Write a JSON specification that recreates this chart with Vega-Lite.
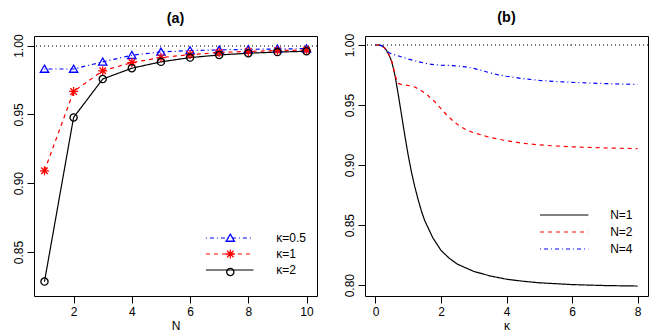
{
  "$schema": "https://vega.github.io/schema/vega-lite/v6.json",
  "background": "white",
  "padding": {"left": 11, "top": 9, "right": 15, "bottom": 5},
  "spacing": 48,
  "bounds": "flush",
  "datasets": {
    "a": [
      {"N": 1, "kappa": "κ=0.5", "value": 0.983},
      {"N": 2, "kappa": "κ=0.5", "value": 0.983},
      {"N": 3, "kappa": "κ=0.5", "value": 0.9882},
      {"N": 4, "kappa": "κ=0.5", "value": 0.993},
      {"N": 5, "kappa": "κ=0.5", "value": 0.9954},
      {"N": 6, "kappa": "κ=0.5", "value": 0.9964},
      {"N": 7, "kappa": "κ=0.5", "value": 0.9969},
      {"N": 8, "kappa": "κ=0.5", "value": 0.9973},
      {"N": 9, "kappa": "κ=0.5", "value": 0.9976},
      {"N": 10, "kappa": "κ=0.5", "value": 0.9978},
      {"N": 1, "kappa": "κ=1", "value": 0.909},
      {"N": 2, "kappa": "κ=1", "value": 0.9667},
      {"N": 3, "kappa": "κ=1", "value": 0.9817},
      {"N": 4, "kappa": "κ=1", "value": 0.9877},
      {"N": 5, "kappa": "κ=1", "value": 0.9913},
      {"N": 6, "kappa": "κ=1", "value": 0.9935},
      {"N": 7, "kappa": "κ=1", "value": 0.995},
      {"N": 8, "kappa": "κ=1", "value": 0.9958},
      {"N": 9, "kappa": "κ=1", "value": 0.9964},
      {"N": 10, "kappa": "κ=1", "value": 0.9968},
      {"N": 1, "kappa": "κ=2", "value": 0.8285},
      {"N": 2, "kappa": "κ=2", "value": 0.9478},
      {"N": 3, "kappa": "κ=2", "value": 0.9757},
      {"N": 4, "kappa": "κ=2", "value": 0.9836},
      {"N": 5, "kappa": "κ=2", "value": 0.9882},
      {"N": 6, "kappa": "κ=2", "value": 0.9913},
      {"N": 7, "kappa": "κ=2", "value": 0.9932},
      {"N": 8, "kappa": "κ=2", "value": 0.9945},
      {"N": 9, "kappa": "κ=2", "value": 0.9953},
      {"N": 10, "kappa": "κ=2", "value": 0.9959}
    ],
    "b": [
      {"kappa": 0, "N": "N=1", "value": 1},
      {"kappa": 0.1, "N": "N=1", "value": 1},
      {"kappa": 0.2, "N": "N=1", "value": 0.9993},
      {"kappa": 0.3, "N": "N=1", "value": 0.997},
      {"kappa": 0.4, "N": "N=1", "value": 0.9925},
      {"kappa": 0.5, "N": "N=1", "value": 0.986},
      {"kappa": 0.6, "N": "N=1", "value": 0.974},
      {"kappa": 0.7, "N": "N=1", "value": 0.958},
      {"kappa": 0.8, "N": "N=1", "value": 0.941},
      {"kappa": 0.9, "N": "N=1", "value": 0.924},
      {"kappa": 1.0, "N": "N=1", "value": 0.908},
      {"kappa": 1.1, "N": "N=1", "value": 0.894},
      {"kappa": 1.2, "N": "N=1", "value": 0.882},
      {"kappa": 1.3, "N": "N=1", "value": 0.8715},
      {"kappa": 1.4, "N": "N=1", "value": 0.862},
      {"kappa": 1.5, "N": "N=1", "value": 0.854},
      {"kappa": 1.75, "N": "N=1", "value": 0.8395},
      {"kappa": 2.0, "N": "N=1", "value": 0.829},
      {"kappa": 2.25, "N": "N=1", "value": 0.8225},
      {"kappa": 2.5, "N": "N=1", "value": 0.8175},
      {"kappa": 3.0, "N": "N=1", "value": 0.8115},
      {"kappa": 3.5, "N": "N=1", "value": 0.8077},
      {"kappa": 4.0, "N": "N=1", "value": 0.805},
      {"kappa": 4.5, "N": "N=1", "value": 0.8033},
      {"kappa": 5.0, "N": "N=1", "value": 0.802},
      {"kappa": 6.0, "N": "N=1", "value": 0.8005},
      {"kappa": 7.0, "N": "N=1", "value": 0.7997},
      {"kappa": 8.0, "N": "N=1", "value": 0.7993},
      {"kappa": 0, "N": "N=2", "value": 1},
      {"kappa": 0.1, "N": "N=2", "value": 1},
      {"kappa": 0.2, "N": "N=2", "value": 0.9993},
      {"kappa": 0.3, "N": "N=2", "value": 0.997},
      {"kappa": 0.4, "N": "N=2", "value": 0.9925},
      {"kappa": 0.5, "N": "N=2", "value": 0.986},
      {"kappa": 0.55, "N": "N=2", "value": 0.981},
      {"kappa": 0.6, "N": "N=2", "value": 0.975},
      {"kappa": 0.65, "N": "N=2", "value": 0.9705},
      {"kappa": 0.7, "N": "N=2", "value": 0.968},
      {"kappa": 0.8, "N": "N=2", "value": 0.967},
      {"kappa": 1.0, "N": "N=2", "value": 0.9663},
      {"kappa": 1.2, "N": "N=2", "value": 0.965},
      {"kappa": 1.4, "N": "N=2", "value": 0.962},
      {"kappa": 1.6, "N": "N=2", "value": 0.958},
      {"kappa": 1.8, "N": "N=2", "value": 0.953},
      {"kappa": 2.0, "N": "N=2", "value": 0.947},
      {"kappa": 2.2, "N": "N=2", "value": 0.941},
      {"kappa": 2.4, "N": "N=2", "value": 0.936},
      {"kappa": 2.6, "N": "N=2", "value": 0.932},
      {"kappa": 2.8, "N": "N=2", "value": 0.929},
      {"kappa": 3.0, "N": "N=2", "value": 0.927},
      {"kappa": 3.5, "N": "N=2", "value": 0.923},
      {"kappa": 4.0, "N": "N=2", "value": 0.9203},
      {"kappa": 4.5, "N": "N=2", "value": 0.9182},
      {"kappa": 5.0, "N": "N=2", "value": 0.9168},
      {"kappa": 5.5, "N": "N=2", "value": 0.9159},
      {"kappa": 6.0, "N": "N=2", "value": 0.9152},
      {"kappa": 7.0, "N": "N=2", "value": 0.9143},
      {"kappa": 8.0, "N": "N=2", "value": 0.9137},
      {"kappa": 0, "N": "N=4", "value": 1},
      {"kappa": 0.1, "N": "N=4", "value": 1},
      {"kappa": 0.2, "N": "N=4", "value": 0.9993},
      {"kappa": 0.25, "N": "N=4", "value": 0.998},
      {"kappa": 0.3, "N": "N=4", "value": 0.9962},
      {"kappa": 0.4, "N": "N=4", "value": 0.9938},
      {"kappa": 0.5, "N": "N=4", "value": 0.9925},
      {"kappa": 0.6, "N": "N=4", "value": 0.9918},
      {"kappa": 0.8, "N": "N=4", "value": 0.99},
      {"kappa": 1.0, "N": "N=4", "value": 0.9883},
      {"kappa": 1.2, "N": "N=4", "value": 0.9868},
      {"kappa": 1.4, "N": "N=4", "value": 0.9855},
      {"kappa": 1.6, "N": "N=4", "value": 0.9843},
      {"kappa": 1.8, "N": "N=4", "value": 0.9836},
      {"kappa": 2.0, "N": "N=4", "value": 0.9832},
      {"kappa": 2.25, "N": "N=4", "value": 0.983},
      {"kappa": 2.5, "N": "N=4", "value": 0.9826},
      {"kappa": 2.75, "N": "N=4", "value": 0.9818},
      {"kappa": 3.0, "N": "N=4", "value": 0.9806},
      {"kappa": 3.25, "N": "N=4", "value": 0.9787},
      {"kappa": 3.5, "N": "N=4", "value": 0.9768},
      {"kappa": 3.75, "N": "N=4", "value": 0.9752},
      {"kappa": 4.0, "N": "N=4", "value": 0.974},
      {"kappa": 4.5, "N": "N=4", "value": 0.972},
      {"kappa": 5.0, "N": "N=4", "value": 0.9706},
      {"kappa": 5.5, "N": "N=4", "value": 0.9696},
      {"kappa": 6.0, "N": "N=4", "value": 0.9689},
      {"kappa": 6.5, "N": "N=4", "value": 0.9684},
      {"kappa": 7.0, "N": "N=4", "value": 0.9679},
      {"kappa": 7.5, "N": "N=4", "value": 0.9675},
      {"kappa": 8.0, "N": "N=4", "value": 0.9672}
    ]
  },
  "resolve": {
    "scale": {"color": "independent", "strokeDash": "independent", "shape": "independent", "stroke": "independent"},
    "legend": {"color": "independent", "strokeDash": "independent", "shape": "independent", "stroke": "independent"}
  },
  "hconcat": [
    {
      "width": 283,
      "height": 260,
      "title": {"text": "(a)"},
      "data": {"name": "a"},
      "layer": [
        {
          "mark": {"type": "rule", "strokeDash": [1, 3], "color": "#777777", "strokeWidth": 1},
          "encoding": {"y": {"datum": 1}}
        },
        {
          "mark": {"type": "line", "strokeWidth": 1.2},
          "encoding": {
            "x": {"field": "N", "type": "quantitative", "scale": {"domain": [0.64, 10.36], "nice": false, "zero": false},
                  "axis": {"values": [2, 4, 6, 8, 10], "title": "N"}},
            "y": {"field": "value", "type": "quantitative", "scale": {"domain": [0.818, 1.007], "nice": false, "zero": false},
                  "axis": {"values": [0.85, 0.9, 0.95, 1.0], "format": ".2f", "title": null, "labelAngle": 270, "labelAlign": "center", "labelBaseline": "bottom", "labelPadding": 2}},
            "color": {"field": "kappa", "type": "nominal",
                      "scale": {"domain": ["κ=0.5", "κ=1", "κ=2"], "range": ["#0000FF", "#FF0000", "#000000"]},
                      "legend": {"title": null, "orient": "none", "legendX": 187.7, "legendY": 194, "symbolType": "M-3.4,0L3.4,0", "symbolSize": 196, "symbolStrokeWidth": 1.2, "labelOffset": 38.5, "rowPadding": 2, "padding": 0}},
            "strokeDash": {"field": "kappa", "type": "nominal",
                      "scale": {"domain": ["κ=0.5", "κ=1", "κ=2"], "range": [[1, 3, 4, 3], [4, 4], [1, 0]]},
                      "legend": {"title": null, "orient": "none", "legendX": 187.7, "legendY": 194, "symbolType": "M-3.4,0L3.4,0", "symbolSize": 196, "symbolStrokeWidth": 1.2, "labelOffset": 38.5, "rowPadding": 2, "padding": 0}}
          }
        },
        {
          "mark": {"type": "point", "size": 196, "filled": false, "strokeWidth": 1.3, "opacity": 1},
          "encoding": {
            "x": {"field": "N", "type": "quantitative"},
            "y": {"field": "value", "type": "quantitative"},
            "stroke": {"field": "kappa", "type": "nominal",
                       "scale": {"range": ["#0000FF", "#FF0000", "#000000"]},
                       "legend": {"title": null, "orient": "none", "legendX": 188.3, "legendY": 194, "symbolSize": 196, "symbolStrokeWidth": 1.3, "labelOffset": 38.5, "rowPadding": 2, "padding": 0, "labelExpr": "''"}},
            "shape": {"field": "kappa", "type": "nominal",
                      "scale": {"range": ["M0,-0.546L0.593,0.463L-0.593,0.463Z", "M0,-0.643L0,0.643M-0.643,0L0.643,0M-0.463,-0.463L0.463,0.463M-0.463,0.463L0.463,-0.463", "M0.514,0A0.514,0.514,0,1,1,-0.514,0A0.514,0.514,0,1,1,0.514,0Z"]},
                      "legend": {"title": null, "orient": "none", "legendX": 188.3, "legendY": 194, "symbolSize": 196, "symbolStrokeWidth": 1.3, "labelOffset": 38.5, "rowPadding": 2, "padding": 0, "labelExpr": "''"}}
          }
        }
      ]
    },
    {
      "width": 283,
      "height": 260,
      "title": {"text": "(b)"},
      "data": {"name": "b"},
      "layer": [
        {
          "mark": {"type": "rule", "strokeDash": [1, 3], "color": "#777777", "strokeWidth": 1},
          "encoding": {"y": {"datum": 1}}
        },
        {
          "mark": {"type": "line", "strokeWidth": 1.2},
          "encoding": {
            "x": {"field": "kappa", "type": "quantitative", "scale": {"domain": [-0.32, 8.32], "nice": false, "zero": false},
                  "axis": {"values": [0, 2, 4, 6, 8], "title": "κ"}},
            "y": {"field": "value", "type": "quantitative", "scale": {"domain": [0.791, 1.0075], "nice": false, "zero": false},
                  "axis": {"values": [0.8, 0.85, 0.9, 0.95, 1.0], "format": ".2f", "title": null, "labelAngle": 270, "labelAlign": "center", "labelBaseline": "bottom", "labelPadding": 2}},
            "color": {"field": "N", "type": "nominal",
                      "scale": {"domain": ["N=1", "N=2", "N=4"], "range": ["#000000", "#FF0000", "#0000FF"]},
                      "legend": {"title": null, "orient": "none", "legendX": 191.2, "legendY": 171, "symbolType": "M-3.45,0L3.45,0", "symbolSize": 196, "symbolStrokeWidth": 1.2, "labelOffset": 38, "rowPadding": 3, "padding": 0}},
            "strokeDash": {"field": "N", "type": "nominal",
                      "scale": {"domain": ["N=1", "N=2", "N=4"], "range": [[1, 0], [4, 4], [1, 3, 4, 3]]},
                      "legend": {"title": null, "orient": "none", "legendX": 191.2, "legendY": 171, "symbolType": "M-3.45,0L3.45,0", "symbolSize": 196, "symbolStrokeWidth": 1.2, "labelOffset": 38, "rowPadding": 3, "padding": 0}}
          }
        }
      ]
    }
  ],
  "config": {
    "font": "Liberation Sans",
    "view": {"stroke": "black", "strokeWidth": 1},
    "title": {"fontSize": 14.4, "fontWeight": "bold", "color": "black", "font": "Liberation Sans", "offset": 8, "anchor": "middle"},
    "axis": {"domain": false, "grid": false, "tickColor": "black", "tickSize": 7, "tickWidth": 1,
             "labelColor": "black", "labelFontSize": 12, "labelFont": "Liberation Sans", "labelPadding": 3,
             "titleFont": "Liberation Sans", "titleFontSize": 12, "titleFontWeight": "normal", "titleColor": "black", "titlePadding": 3},
    "legend": {"labelFontSize": 12, "labelColor": "black", "labelFont": "Liberation Sans", "labelLimit": 0}
  }
}
